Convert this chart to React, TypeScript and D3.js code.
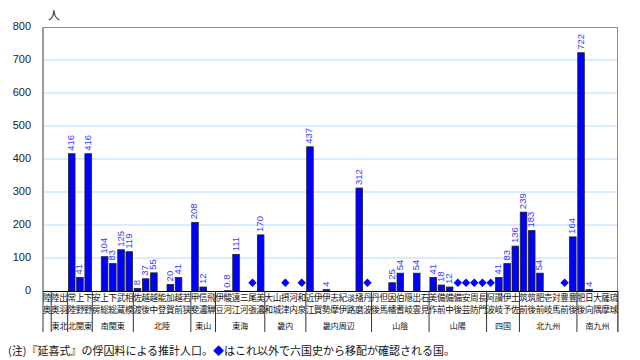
import React from "react";
import * as d3 from "d3";

const provinces = ["陸奥","陸奥","出羽","常陸","上野","下野","安房","上総","下総","武蔵","相模","佐渡","越後","越中","能登","加賀","越前","若狭","甲斐","信濃","飛騨","伊豆","駿河","遠江","三河","尾張","美濃","大和","山城","摂津","河内","和泉","近江","伊賀","伊勢","志摩","紀伊","淡路","播磨","丹波","丹後","但馬","因幡","伯耆","隠岐","出雲","石見","美作","備前","備中","備後","安芸","周防","長門","阿波","讃岐","伊予","土佐","筑前","筑後","肥前","壱岐","対馬","豊前","豊後","肥後","日向","大隅","薩摩","琉球"];

const population: (number | null)[] = [null,null,null,416,41,416,null,104,83,125,119,8,37,55,null,20,41,null,208,12,null,null,0.8,111,null,null,170,null,null,null,null,null,437,null,4,null,null,null,312,null,null,null,25,54,null,54,null,41,18,12,null,null,null,null,null,41,83,136,239,183,54,null,null,null,164,722,4,null,null,null];

const markedProvinces = ["尾張","摂津","和泉","丹波","備後","安芸","周防","長門","阿波","豊前"];
const markerValue = 25;

const regionNames = ["","東北","北関東","南関東","北陸","東山","東海","畿内","畿内周辺","山陰","山陽","四国","北九州","南九州"];
const regionSizes = [1,2,3,5,7,3,6,5,8,7,7,4,7,5];

const yTicks = [0,100,200,300,400,500,600,700,800];

export default function App() {
  const W = 640, H = 360;
  const left = 43, right = 618, top = 27, bottom = 291;
  const x = d3.scaleBand<number>().domain(provinces.map((_, i) => i)).range([left, right]).padding(0);
  const slot = x.step();
  const cxs = (i: number) => (x(i) as number) + slot / 2;
  const bw = slot * 0.8;
  const y = d3.scaleLinear().domain([0, 800]).range([bottom, top]);

  const bounds: number[] = [];
  let acc = 0;
  const regionCenters: { name: string; c: number }[] = [];
  regionSizes.forEach((s, k) => {
    const start = acc;
    acc += s;
    bounds.push(acc);
    regionCenters.push({ name: regionNames[k], c: left + ((start + acc) / 2) * slot });
  });

  const cjk = "'Noto Sans CJK JP', sans-serif";
  const r = 4.2;
  const diamond = `M0,${-r}L${r},0L0,${r}L${-r},0Z`;

  return (
    <svg width={W} height={H} style={{ position: "absolute", left: 0, top: 0, background: "#fff" }}>
      {yTicks.filter(t => t > 0 && t < 800).map(t => (
        <line key={t} x1={left} x2={right} y1={y(t)} y2={y(t)} stroke="#b4d8fa" strokeWidth={1} />
      ))}
      <line x1={left} x2={right} y1={top + 0.5} y2={top + 0.5} stroke="#8c8c8c" />
      <line x1={right - 0.5} x2={right - 0.5} y1={top} y2={332} stroke="#8c8c8c" />
      <line x1={left} x2={left} y1={top} y2={bottom} stroke="#9a9a9a" strokeWidth={2} />
      {yTicks.map(t => (
        <text key={t} x={31} y={y(t)} textAnchor="end" dominantBaseline="middle" fontSize={11} fontFamily="'Liberation Sans', Arial, sans-serif" fill="#222">{t}</text>
      ))}
      <text x={48} y={17} fontSize={12} fontFamily={cjk} fill="#222" dominantBaseline="middle">人</text>
      {population.map((v, i) => v == null ? null : (
        <rect key={"b" + i} x={cxs(i) - bw / 2} y={y(v)} width={bw} height={Math.max(0.5, bottom - y(v))} fill="#0000ff" stroke="#222" strokeWidth={0.8} />
      ))}
      {population.map((v, i) => v == null ? null : (
        <text key={"l" + i} transform={`translate(${cxs(i)},${y(v) - 3}) rotate(-90)`} fontSize={9.5} fontFamily="'Liberation Sans', Arial, sans-serif" fill="#3a3aff" dominantBaseline="middle" textAnchor="start">{v}</text>
      ))}
      {provinces.map((p, i) => (markedProvinces.includes(p) && population[i] == null) ? (
        <path key={"d" + i} d={diamond} transform={`translate(${cxs(i)},${y(markerValue)})`} fill="#0000ff" />
      ) : null)}
      <line x1={left} x2={right} y1={bottom + 0.5} y2={bottom + 0.5} stroke="#000" />
      {[0, ...bounds].map((b, k) => (
        <line key={"g" + k} x1={left + b * slot} x2={left + b * slot} y1={bottom} y2={332} stroke="#333" strokeWidth={1} />
      ))}
      {provinces.map((p, i) => (
        <g key={"p" + i} fontSize={8.6} fontFamily={cjk} fill="#111" textAnchor="middle">
          <text x={cxs(i)} y={299} dominantBaseline="middle">{p[0]}</text>
          <text x={cxs(i)} y={311} dominantBaseline="middle">{p[1]}</text>
        </g>
      ))}
      {regionCenters.map((rc, k) => rc.name ? (
        <text key={"r" + k} x={rc.c} y={327} textAnchor="middle" dominantBaseline="middle" fontSize={8} fontFamily={cjk} fill="#111">{rc.name}</text>
      ) : null)}
      <text x={8} y={352} fontSize={11} fontFamily={cjk} fill="#111" dominantBaseline="middle">
        (注)『延喜式』の俘囚料による推計人口。<tspan fill="#0000ff">◆</tspan>はこれ以外で六国史から移配が確認される国。
      </text>
    </svg>
  );
}
